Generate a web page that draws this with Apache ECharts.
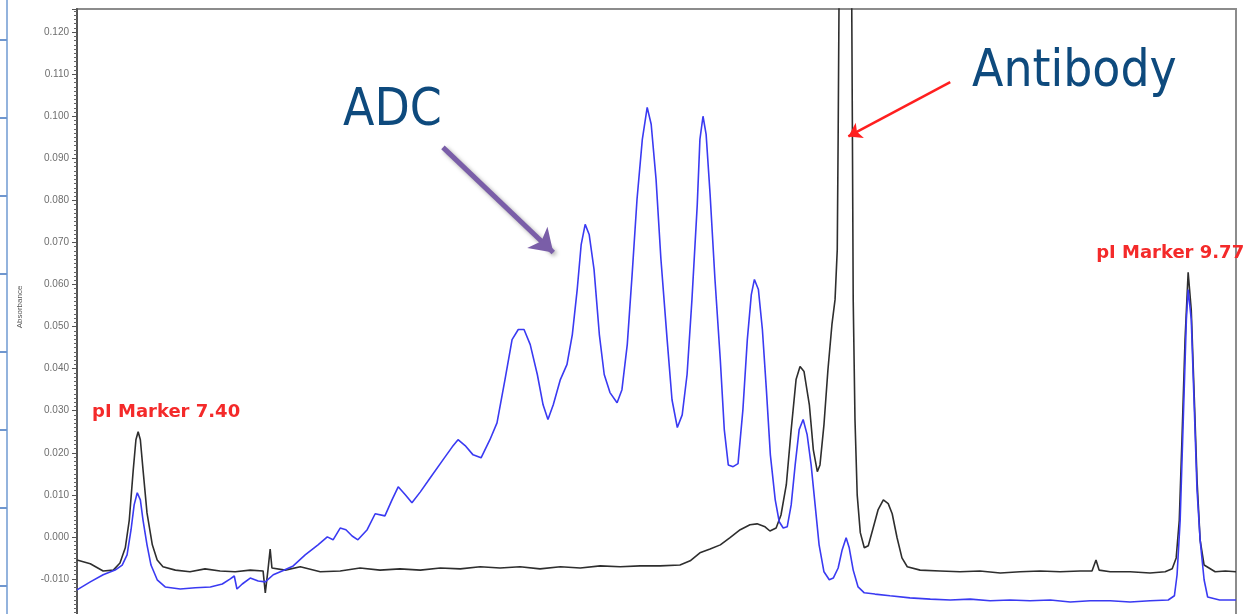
<!DOCTYPE html>
<html>
<head>
<meta charset="utf-8">
<title>cIEF electropherogram – ADC vs antibody</title>
<script src="https://cdn.jsdelivr.net/npm/echarts@6/dist/echarts.min.js"></script>
<style>
  html, body { margin: 0; padding: 0; background: #ffffff; }
  #chart { width: 1244px; height: 614px; }
</style>
</head>
<body>
<div id="chart"></div>
<script>
// Naked antibody trace (black): apparent pI vs absorbance
const pIAntibody = [7.262,7.292,7.321,7.344,7.359,7.371,7.380,7.389,7.395,7.400,
  7.405,7.411,7.420,7.432,7.443,7.456,7.484,7.517,7.551,7.585,
  7.619,7.653,7.682,7.687,7.693,7.698,7.702,7.732,7.766,7.811,
  7.856,7.901,7.946,7.991,8.037,8.082,8.127,8.172,8.217,8.262,
  8.307,8.353,8.398,8.443,8.488,8.533,8.578,8.623,8.646,8.668,
  8.691,8.714,8.736,8.759,8.781,8.797,8.815,8.826,8.840,8.851,
  8.863,8.874,8.885,8.894,8.903,8.915,8.924,8.933,8.939,8.948,
  8.957,8.966,8.973,8.978,8.980,8.984,8.996,9.009,9.012,9.014,
  9.018,9.023,9.030,9.039,9.048,9.059,9.070,9.082,9.093,9.102,
  9.113,9.124,9.136,9.165,9.210,9.255,9.300,9.346,9.391,9.436,
  9.481,9.526,9.553,9.562,9.569,9.594,9.639,9.684,9.718,9.734,
  9.743,9.750,9.756,9.763,9.770,9.777,9.784,9.790,9.797,9.806,
  9.831,9.854,9.878];
const absAntibody = [-0.0055,-0.0064,-0.0081,-0.0079,-0.0062,-0.0026,0.0040,0.0160,0.0231,0.0250,
  0.0231,0.0160,0.0057,-0.0019,-0.0055,-0.0071,-0.0079,-0.0083,-0.0076,-0.0081,
  -0.0083,-0.0079,-0.0081,-0.0133,-0.0079,-0.0029,-0.0074,-0.0079,-0.0071,-0.0083,
  -0.0081,-0.0074,-0.0079,-0.0076,-0.0079,-0.0074,-0.0076,-0.0071,-0.0074,-0.0071,
  -0.0076,-0.0071,-0.0074,-0.0069,-0.0071,-0.0069,-0.0069,-0.0067,-0.0057,-0.0038,
  -0.0029,-0.0019,-0.0002,0.0017,0.0029,0.0031,0.0024,0.0014,0.0021,0.0052,
  0.0124,0.0255,0.0374,0.0405,0.0393,0.0314,0.0207,0.0155,0.0171,0.0267,
  0.0398,0.0505,0.0564,0.0683,0.095,0.160,0.300,0.160,0.100,0.0564,
  0.0279,0.0100,0.0010,-0.0026,-0.0021,0.0021,0.0064,0.0088,0.0079,0.0055,
  -0.0002,-0.0050,-0.0071,-0.0079,-0.0081,-0.0083,-0.0081,-0.0086,-0.0083,-0.0081,
  -0.0083,-0.0081,-0.0081,-0.0055,-0.0079,-0.0083,-0.0083,-0.0086,-0.0083,-0.0076,
  -0.0050,0.0040,0.0231,0.0469,0.0629,0.0540,0.0326,0.0136,-0.0007,-0.0067,
  -0.0083,-0.0081,-0.0083];

// ADC trace (blue)
const pIADC = [7.262,7.292,7.321,7.348,7.364,7.375,7.384,7.391,7.398,7.405,
  7.411,7.420,7.429,7.443,7.461,7.495,7.529,7.563,7.590,7.608,
  7.617,7.623,7.635,7.653,7.671,7.687,7.705,7.725,7.750,7.777,
  7.806,7.827,7.840,7.856,7.869,7.883,7.896,7.917,7.935,7.957,
  7.973,7.987,8.003,8.018,8.037,8.059,8.088,8.109,8.122,8.138,
  8.156,8.174,8.194,8.210,8.228,8.244,8.258,8.271,8.285,8.301,
  8.314,8.325,8.337,8.353,8.368,8.380,8.391,8.400,8.409,8.418,
  8.429,8.441,8.452,8.465,8.481,8.492,8.504,8.515,8.526,8.538,
  8.549,8.558,8.569,8.580,8.594,8.605,8.617,8.628,8.639,8.650,
  8.662,8.668,8.675,8.682,8.691,8.702,8.714,8.723,8.732,8.743,
  8.754,8.765,8.775,8.784,8.791,8.800,8.809,8.818,8.827,8.838,
  8.847,8.856,8.865,8.874,8.883,8.892,8.901,8.910,8.919,8.928,
  8.937,8.948,8.960,8.969,8.980,8.989,8.998,9.005,9.014,9.025,
  9.039,9.063,9.097,9.142,9.188,9.233,9.278,9.323,9.368,9.413,
  9.459,9.504,9.549,9.594,9.639,9.684,9.725,9.739,9.745,9.752,
  9.759,9.766,9.770,9.777,9.784,9.790,9.797,9.806,9.814,9.841,
  9.878];
const absADC = [-0.0126,-0.0107,-0.0090,-0.0079,-0.0067,-0.0043,0.0017,0.0076,0.0105,0.0088,
  0.0040,-0.0019,-0.0067,-0.0102,-0.0119,-0.0124,-0.0121,-0.0119,-0.0112,-0.0100,
  -0.0093,-0.0124,-0.0112,-0.0098,-0.0105,-0.0107,-0.0090,-0.0081,-0.0069,-0.0043,
  -0.0019,0.0000,-0.0007,0.0021,0.0017,0.0002,-0.0007,0.0017,0.0055,0.0050,
  0.0088,0.0119,0.0100,0.0081,0.0107,0.0140,0.0183,0.0214,0.0231,0.0217,
  0.0195,0.0188,0.0231,0.0271,0.0374,0.0469,0.0493,0.0493,0.0457,0.0386,
  0.0314,0.0279,0.0314,0.0374,0.0410,0.0481,0.0588,0.0695,0.0743,0.0719,
  0.0636,0.0481,0.0386,0.0343,0.0319,0.0350,0.0457,0.0624,0.0802,0.0945,
  0.1021,0.0981,0.0850,0.0660,0.0469,0.0326,0.0260,0.0290,0.0386,0.0564,
  0.0790,0.0945,0.1000,0.0957,0.0814,0.0612,0.0421,0.0255,0.0171,0.0167,
  0.0174,0.0302,0.0469,0.0576,0.0612,0.0588,0.0493,0.0350,0.0195,0.0088,
  0.0036,0.0021,0.0024,0.0076,0.0171,0.0255,0.0279,0.0243,0.0171,0.0076,
  -0.0019,-0.0083,-0.0102,-0.0098,-0.0074,-0.0031,-0.0002,-0.0026,-0.0079,-0.0119,
  -0.0133,-0.0136,-0.0140,-0.0145,-0.0148,-0.0150,-0.0148,-0.0152,-0.0150,-0.0152,
  -0.0150,-0.0155,-0.0152,-0.0152,-0.0155,-0.0152,-0.0150,-0.0140,-0.0090,0.0040,
  0.0279,0.0517,0.0588,0.0517,0.0302,0.0112,-0.0007,-0.0102,-0.0143,-0.0150,
  -0.0150];

// pI marker peaks (apparent pI, peak absorbance)
const markerPI = [7.40, 9.77];
const markerAbs = [0.0250, 0.0629];

// Annotation arrows in data units: [start pI, start abs, end pI, end abs]
const adcArrow = [8.088, 0.0926, 8.337, 0.0676];
const antibodyArrow = [9.233, 0.1081, 9.003, 0.0952];

const zip = (xs, ys) => xs.map((x, i) => [x, ys[i]]);

const chart = echarts.init(document.getElementById('chart'), null, { renderer: 'canvas' });

// Slide-edge ruler on the far left
const rulerY = [40, 118, 196, 274, 352, 430, 508, 586];
const rulerGraphics = [
  { type: 'line', shape: { x1: 7, y1: 0, x2: 7, y2: 614 }, style: { stroke: '#93b3dd', lineWidth: 2 }, silent: true }
].concat(rulerY.map(y => ({
  type: 'line', shape: { x1: 0, y1: y, x2: 7, y2: y }, style: { stroke: '#6f97cf', lineWidth: 2 }, silent: true
})));

const option = {
  animation: false,
  backgroundColor: '#ffffff',
  // plot area runs past the bottom edge of the canvas
  grid: {
    left: 77, right: 8, top: 9, height: 612,
    outerBoundsMode: 'none',
    containLabel: false,
    show: true, borderColor: '#8c8c8c', borderWidth: 2
  },
  xAxis: {
    type: 'value', min: 7.262, max: 9.878, show: false
  },
  yAxis: {
    type: 'value',
    min: -0.02, max: 0.1255, interval: 0.01,
    name: 'Absorbance',
    nameLocation: 'middle',
    nameGap: 53,
    nameTextStyle: { fontSize: 8, color: '#555', fontFamily: 'Liberation Sans', padding: [0, 0, 0, 16] },
    axisLine: { show: true, lineStyle: { color: '#555', width: 2 } },
    axisTick: { show: true, length: 5, lineStyle: { color: '#555', width: 1 } },
    minorTick: { show: true, splitNumber: 10, length: 3, lineStyle: { color: '#666', width: 1 } },
    splitLine: { show: false },
    axisLabel: {
      color: '#6e6e6e', fontSize: 10, fontFamily: 'Liberation Sans', margin: 8,
      formatter: v => (Math.abs(v * 100 - Math.round(v * 100)) < 1e-6 ? v.toFixed(3) : '')
    }
  },
  graphic: rulerGraphics.concat([
    {
      type: 'text', left: 343, top: 86,
      style: { text: 'ADC', fontSize: 51, fontFamily: 'DejaVu Sans Condensed, DejaVu Sans', fill: '#0e4a7d' }
    },
    {
      type: 'text', left: 972, top: 47,
      style: { text: 'Antibody', fontSize: 51, fontFamily: 'DejaVu Sans Condensed, DejaVu Sans', fill: '#0e4a7d' }
    }
  ]),
  series: [
    {
      name: 'Antibody',
      type: 'line',
      data: zip(pIAntibody, absAntibody),
      showSymbol: false,
      clip: true,
      z: 2,
      lineStyle: { color: '#2e2e2e', width: 1.6 },
      markPoint: {
        silent: true,
        symbol: 'circle', symbolSize: 1,
        itemStyle: { color: 'rgba(0,0,0,0)' },
        label: {
          show: true, position: 'inside',
          color: '#f42a2a', fontSize: 18, fontWeight: 'bold', fontFamily: 'DejaVu Sans',
          formatter: p => 'pI Marker ' + p.data.coord[0].toFixed(2)
        },
        data: [
          { coord: [markerPI[0], markerAbs[0]], label: { offset: [28, -19] } },
          { coord: [markerPI[1], markerAbs[1]], label: { offset: [-18, -19] } }
        ]
      },
      markLine: {
        silent: true,
        symbol: ['none', 'arrow'],
        symbolSize: 13,
        label: { show: false },
        lineStyle: { color: '#ff1f1f', width: 2.5, type: 'solid' },
        data: [[
          { coord: [antibodyArrow[0], antibodyArrow[1]] },
          { coord: [antibodyArrow[2], antibodyArrow[3]] }
        ]]
      }
    },
    {
      name: 'ADC',
      type: 'line',
      data: zip(pIADC, absADC),
      showSymbol: false,
      clip: true,
      z: 3,
      lineStyle: { color: '#3a3af2', width: 1.6 },
      markLine: {
        silent: true,
        symbol: ['none', 'arrow'],
        symbolSize: 22,
        label: { show: false },
        lineStyle: {
          color: '#7a5ea8', width: 5, type: 'solid',
          shadowColor: 'rgba(0,0,0,0.35)', shadowBlur: 4, shadowOffsetX: 2, shadowOffsetY: 2
        },
        data: [[
          { coord: [adcArrow[0], adcArrow[1]] },
          { coord: [adcArrow[2], adcArrow[3]] }
        ]]
      }
    }
  ]
};

chart.setOption(option);
</script>
</body>
</html>
